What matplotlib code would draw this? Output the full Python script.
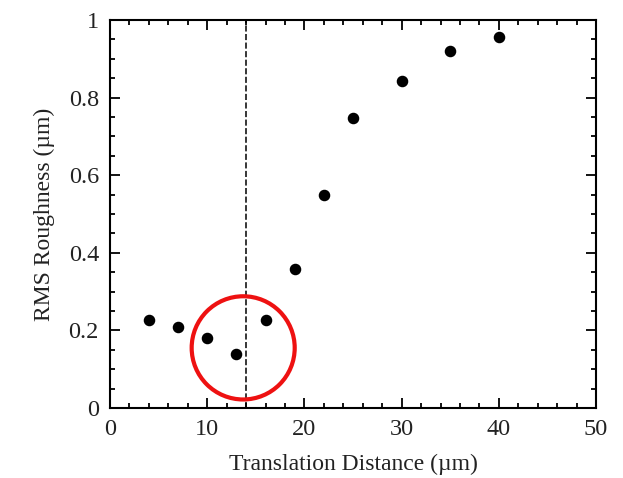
import matplotlib
matplotlib.use("Agg")
import matplotlib.pyplot as plt
from matplotlib.patches import Ellipse
from matplotlib.ticker import MultipleLocator, FuncFormatter

distance = [4, 7, 10, 13, 16, 19, 22, 25, 30, 35, 40]
roughness = [0.227, 0.209, 0.18, 0.138, 0.227, 0.358, 0.549, 0.747, 0.843, 0.92, 0.956]
threshold = 14
circle_center = (13.7, 0.155)
circle_size = (10.6, 0.266)

plt.rcParams['font.family'] = ['Liberation Serif', 'DejaVu Serif']
txt = '#222222'

fig = plt.figure(figsize=(6.23, 4.78), dpi=100)
ax = fig.add_axes([0.1766, 0.1464, 0.7801, 0.8118])

ax.plot(distance, roughness, 'o', color='black', markersize=7.3, zorder=3)
ax.axvline(threshold, color='black', lw=1.1, dashes=(4, 1.6), zorder=2)
ax.add_patch(Ellipse(circle_center, circle_size[0], circle_size[1], fill=False,
                     edgecolor='#ee1111', lw=3, zorder=4, clip_on=False))

ax.set_xlim(0, 50)
ax.set_ylim(0, 1)
ax.xaxis.set_major_locator(MultipleLocator(10))
ax.xaxis.set_minor_locator(MultipleLocator(2))
ax.yaxis.set_major_locator(MultipleLocator(0.2))
ax.yaxis.set_minor_locator(MultipleLocator(0.05))
ax.yaxis.set_major_formatter(FuncFormatter(lambda v, p: f"{v:g}"))

ax.tick_params(which='both', direction='in', top=True, right=True, width=1.3,
               labelsize=17.5, labelcolor=txt, pad=8)
ax.tick_params(which='major', length=7)
ax.tick_params(which='minor', length=3.5)
for s in ax.spines.values():
    s.set_linewidth(1.5)

ax.set_xlabel('Translation Distance (µm)', fontsize=17, color=txt, labelpad=10)
ax.set_ylabel('RMS Roughness (µm)', fontsize=17, color=txt, labelpad=10)

fig.savefig('out.png', dpi=100)
